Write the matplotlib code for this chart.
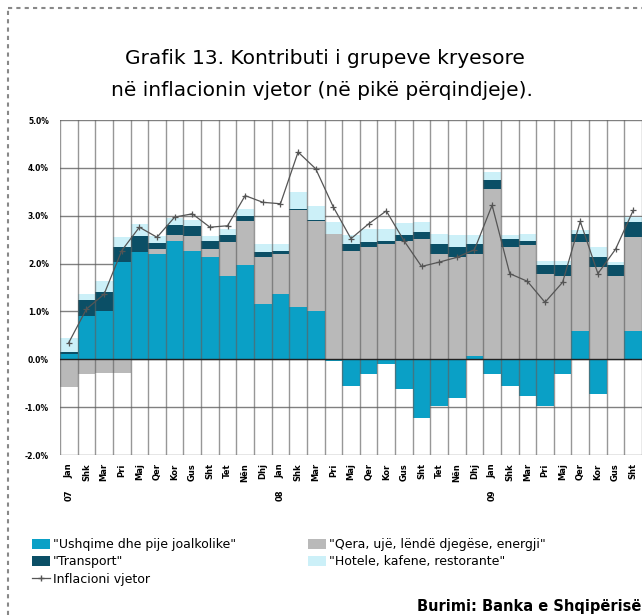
import matplotlib
matplotlib.use("Agg")
import matplotlib.pyplot as plt
import numpy as np
from matplotlib.patches import Patch
from matplotlib.lines import Line2D

plt.rcParams['font.family'] = ['DejaVu Sans']

months = ["Jan", "Shk", "Mar", "Pri", "Maj", "Qer", "Kor", "Gus", "Sht", "Tet", "Nën", "Dhj",
          "Jan", "Shk", "Mar", "Pri", "Maj", "Qer", "Kor", "Gus", "Sht", "Tet", "Nën", "Dhj",
          "Jan", "Shk", "Mar", "Pri", "Maj", "Qer", "Kor", "Gus", "Sht"]
years = {0: "07", 12: "08", 24: "09"}

food = [0.12, 0.91, 1.01, 2.03, 2.24, 2.20, 2.48, 2.27, 2.13, 1.75, 1.96, 1.16, 1.37,
        1.10, 1.01, -0.03, -0.56, -0.31, -0.10, -0.62, -1.22, -0.98, -0.80, 0.07,
        -0.31, -0.56, -0.77, -0.98, -0.31, 0.59, -0.73, 0.00, 0.59]
housing = [-0.57, -0.31, -0.28, -0.28, 0.00, 0.10, 0.12, 0.31, 0.18, 0.70, 0.94, 0.97, 0.83,
           2.01, 1.89, 2.62, 2.27, 2.34, 2.41, 2.48, 2.52, 2.20, 2.13, 2.13,
           3.56, 2.34, 2.38, 1.78, 1.75, 1.86, 1.92, 1.75, 1.96]
transport = [0.03, 0.32, 0.39, 0.31, 0.34, 0.14, 0.20, 0.21, 0.17, 0.14, 0.10, 0.11, 0.07,
             0.03, 0.02, 0.00, 0.14, 0.11, 0.07, 0.11, 0.14, 0.21, 0.21, 0.20,
             0.18, 0.18, 0.10, 0.18, 0.21, 0.17, 0.21, 0.21, 0.31]
hotels = [0.30, 0.14, 0.24, 0.21, 0.25, 0.14, 0.15, 0.13, 0.10, 0.14, 0.15, 0.17, 0.14,
          0.35, 0.28, 0.24, 0.18, 0.28, 0.25, 0.25, 0.20, 0.21, 0.25, 0.19,
          0.17, 0.08, 0.14, 0.10, 0.10, 0.08, 0.21, 0.07, 0.11]
inflation = [0.35, 1.05, 1.36, 2.27, 2.76, 2.55, 2.97, 3.04, 2.76, 2.79, 3.42, 3.28, 3.25,
             4.33, 3.98, 3.18, 2.52, 2.83, 3.10, 2.48, 1.94, 2.03, 2.13, 2.29,
             3.22, 1.79, 1.63, 1.19, 1.61, 2.88, 1.79, 2.30, 3.11]

series = [("\"Ushqime dhe pije joalkolike\"", food, "#0aa0c6"),
          ("\"Qera, ujë, lëndë djegëse, energji\"", housing, "#b9b9b9"),
          ("\"Transport\"", transport, "#0b4f66"),
          ("\"Hotele, kafene, restorante\"", hotels, "#ccf0f8")]

W, H = 642, 615
fig = plt.figure(figsize=(W / 100, H / 100), dpi=100)
ax = fig.add_axes([60 / W, 1 - 455 / H, (642 - 60) / W, (455 - 120) / H])

x = np.arange(len(months))
pos_base = np.zeros(len(x))
neg_base = np.zeros(len(x))
for name, vals, col in series:
    v = np.array(vals)
    p = np.where(v > 0, v, 0)
    n = np.where(v < 0, v, 0)
    ax.bar(x, p, bottom=pos_base, width=1.0, color=col, edgecolor='none', zorder=2)
    ax.bar(x, n, bottom=neg_base, width=1.0, color=col, edgecolor='none', zorder=2)
    pos_base += p
    neg_base += n

ax.plot(x, inflation, color='#555555', lw=0.9, marker='+', markersize=5,
        markeredgewidth=0.9, zorder=4)

ax.set_xlim(-0.5, len(x) - 0.5)
ax.set_ylim(-2, 5)
ax.set_yticks(np.arange(-2, 6, 1))
ax.set_yticklabels([f"{v:.1f}%" for v in np.arange(-2, 6, 1)], fontsize=5.5, fontweight='bold')
ax.yaxis.grid(True, color='#808080', lw=1.0, zorder=0)
ax.set_axisbelow(True)
for b in np.arange(-0.5, len(x), 1.0):
    ax.axvline(b, color='#606060', lw=1.0, alpha=0.65, zorder=3)
ax.axhline(0, color='#222222', lw=1.0, zorder=3)
for s in ax.spines.values():
    s.set_visible(False)
ax.tick_params(axis='both', length=0)
ax.tick_params(axis='y', pad=8)

ax.set_xticks(x)
ax.set_xticklabels(months, rotation=90, fontsize=6, fontweight='bold')
ax.tick_params(axis='x', pad=6)
for i, yr in years.items():
    ax.text(i, -2.72, yr, rotation=90, fontsize=6, fontweight='bold',
            ha='center', va='top', transform=ax.transData, clip_on=False)

fig.text(325 / W, 1 - 58 / H, "Grafik 13. Kontributi i grupeve kryesore",
         ha='center', va='center', fontsize=14.5)
fig.text(322 / W, 1 - 90 / H, "në inflacionin vjetor (në pikë përqindjeje).",
         ha='center', va='center', fontsize=14.5)

h_food = Patch(facecolor=series[0][2], label=series[0][0])
h_tr = Patch(facecolor=series[2][2], label=series[2][0])
h_line = Line2D([], [], color='#555555', lw=0.9, marker='+', markersize=5, label="Inflacioni vjetor")
h_hs = Patch(facecolor=series[1][2], label=series[1][0])
h_ht = Patch(facecolor=series[3][2], label=series[3][0])

fig.legend(handles=[h_food, h_tr, h_line], loc='upper left',
           bbox_to_anchor=(32 / W, 1 - 538 / H), frameon=False, fontsize=9,
           handlelength=1.4, handleheight=0.9, handletextpad=0.3, labelspacing=0.35,
           borderpad=0, borderaxespad=0)
fig.legend(handles=[h_hs, h_ht], loc='upper left',
           bbox_to_anchor=(308 / W, 1 - 538 / H), frameon=False, fontsize=9,
           handlelength=1.4, handleheight=0.9, handletextpad=0.3, labelspacing=0.35,
           borderpad=0, borderaxespad=0)

fig.text(641 / W, 1 - 606 / H, "Burimi: Banka e Shqipërisë", ha='right', va='center',
         fontsize=10.5, fontweight='bold')

fig.add_artist(Line2D([8 / W, 1.0], [1 - 8 / H, 1 - 8 / H], transform=fig.transFigure,
                      color='#888888', lw=1.5, linestyle=(0, (2, 2))))
fig.add_artist(Line2D([8 / W, 8 / W], [0, 1 - 8 / H], transform=fig.transFigure,
                      color='#888888', lw=1.5, linestyle=(0, (2, 2))))

fig.savefig("out.png", dpi=100)
